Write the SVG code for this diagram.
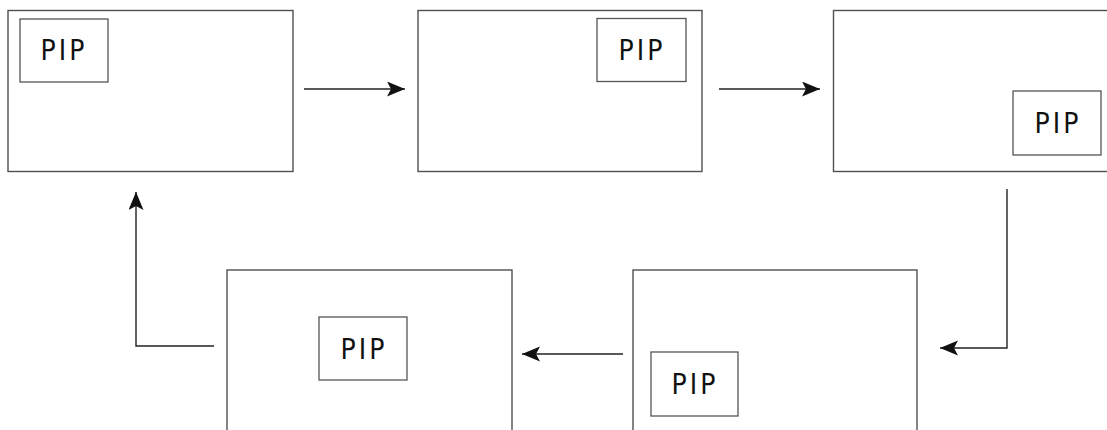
<svg xmlns="http://www.w3.org/2000/svg" width="1107" height="430" viewBox="0 0 1107 430">
<style>
.screen{fill:#fff;stroke:#505050;stroke-width:1.4}
.pip{fill:#fff;stroke:#555;stroke-width:1.3}
.lbl{font-family:"DejaVu Sans Condensed","DejaVu Sans","Liberation Sans",sans-serif;font-stretch:condensed;font-size:28px;fill:#111;text-anchor:middle;letter-spacing:3px}
.conn{fill:none;stroke:#222;stroke-width:1.4}
</style>
<defs>
<marker id="ah" markerUnits="userSpaceOnUse" markerWidth="20" markerHeight="16" refX="18" refY="7.5" orient="auto">
<path d="M0,0 L18,7.5 L0,15 L4,7.5 z" fill="#111"/>
</marker>
</defs>
<rect width="1107" height="430" fill="#fff"/>
<g id="screen1">
<rect class="screen" x="8" y="10.5" width="285" height="161"/>
<rect class="pip" x="20" y="19" width="88" height="63"/>
<text class="lbl" x="64" y="60">PIP</text>
</g>
<g id="screen2">
<rect class="screen" x="418" y="10.5" width="284" height="161"/>
<rect class="pip" x="597" y="18.5" width="89" height="63"/>
<text class="lbl" x="642" y="60">PIP</text>
</g>
<g id="screen3">
<rect class="screen" x="833.5" y="10.5" width="300" height="161"/>
<rect class="pip" x="1013" y="91" width="88" height="64"/>
<text class="lbl" x="1058" y="133">PIP</text>
</g>
<g id="screen4">
<rect class="screen" x="633" y="270" width="284" height="200"/>
<rect class="pip" x="651" y="352" width="87" height="64"/>
<text class="lbl" x="695" y="394">PIP</text>
</g>
<g id="screen5">
<rect class="screen" x="227" y="270" width="285" height="200"/>
<rect class="pip" x="319" y="317" width="88" height="63"/>
<text class="lbl" x="364" y="359">PIP</text>
</g>
<g id="connectors">
<path class="conn" d="M304,89 L405,89" marker-end="url(#ah)"/>
<path class="conn" d="M719,89 L820,89" marker-end="url(#ah)"/>
<path class="conn" d="M1007,189 L1007,348 L940,348" marker-end="url(#ah)"/>
<path class="conn" d="M623,354 L522,354" marker-end="url(#ah)"/>
<path class="conn" d="M214,346 L136,346 L136,192" marker-end="url(#ah)"/>
</g>
</svg>
